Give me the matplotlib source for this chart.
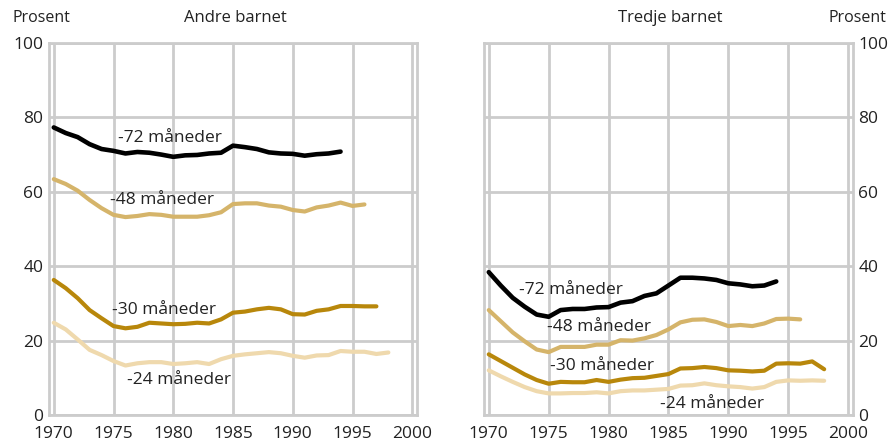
import matplotlib
matplotlib.use("Agg")
import matplotlib.pyplot as plt

plt.rcParams["font.family"] = ["Open Sans", "DejaVu Sans"]

# ===== data =====
years_andre_72 = list(range(1970, 1995))
andre_72 = [77.3, 75.8, 74.7, 72.8, 71.5, 71.0, 70.3, 70.7, 70.5, 70.0,
            69.4, 69.8, 69.9, 70.3, 70.5, 72.4, 72.0, 71.5, 70.6, 70.3,
            70.2, 69.7, 70.1, 70.3, 70.8]
years_andre_48 = list(range(1970, 1997))
andre_48 = [63.4, 62.1, 60.3, 57.8, 55.6, 53.8, 53.2, 53.5, 54.0, 53.8,
            53.3, 53.3, 53.3, 53.7, 54.5, 56.7, 56.9, 56.9, 56.3, 56.0,
            55.1, 54.7, 55.8, 56.3, 57.1, 56.2, 56.6]
years_andre_30 = list(range(1970, 1998))
andre_30 = [36.3, 34.1, 31.4, 28.2, 26.0, 23.9, 23.3, 23.7, 24.8, 24.6,
            24.4, 24.5, 24.8, 24.6, 25.7, 27.5, 27.8, 28.4, 28.8, 28.4,
            27.1, 27.0, 28.0, 28.4, 29.3, 29.3, 29.2, 29.2]
years_andre_24 = list(range(1970, 1999))
andre_24 = [24.8, 23.0, 20.3, 17.5, 16.1, 14.5, 13.3, 13.9, 14.2, 14.2,
            13.7, 13.9, 14.2, 13.7, 15.0, 15.9, 16.3, 16.6, 16.9, 16.6,
            15.9, 15.4, 16.0, 16.1, 17.2, 17.0, 17.0, 16.4, 16.8]

years_tredje_72 = list(range(1970, 1995))
tredje_72 = [38.4, 34.8, 31.5, 29.1, 27.0, 26.4, 28.2, 28.5, 28.5, 28.9,
             29.0, 30.2, 30.6, 32.0, 32.7, 34.8, 36.9, 36.9, 36.7, 36.3,
             35.4, 35.1, 34.6, 34.8, 35.9]
years_tredje_48 = list(range(1970, 1997))
tredje_48 = [28.2, 25.2, 22.2, 19.8, 17.6, 16.9, 18.3, 18.3, 18.3, 18.9,
             18.9, 20.1, 20.0, 20.6, 21.5, 23.0, 24.9, 25.6, 25.7, 25.0,
             23.9, 24.2, 23.9, 24.6, 25.8, 25.9, 25.7]
years_tredje_30 = list(range(1970, 1999))
tredje_30 = [16.3, 14.5, 12.7, 10.9, 9.4, 8.4, 8.9, 8.8, 8.8, 9.4,
             8.9, 9.5, 9.9, 10.0, 10.5, 11.0, 12.5, 12.6, 12.9, 12.6,
             12.0, 11.9, 11.7, 11.9, 13.8, 13.9, 13.8, 14.4, 12.3]
years_tredje_24 = list(range(1970, 1999))
tredje_24 = [12.0, 10.4, 8.9, 7.5, 6.4, 5.8, 5.8, 5.9, 5.9, 6.1,
             5.8, 6.4, 6.6, 6.6, 6.8, 7.0, 7.9, 8.0, 8.5, 8.0,
             7.7, 7.5, 7.1, 7.5, 8.9, 9.3, 9.2, 9.3, 9.2]

x_ticks = [1970, 1975, 1980, 1985, 1990, 1995, 2000]
y_ticks = [0, 20, 40, 60, 80, 100]

COLORS = {"72": "#000000", "48": "#d5b46a", "30": "#b8870b", "24": "#efd9ad"}
WIDTHS = {"72": 3.3, "48": 3.0, "30": 3.0, "24": 3.0}
TEXT_COLOR = "#222222"
GRID_COLOR = "#cccccc"


def style_axes(ax, right=False):
    ax.set_xlim(1969.6, 2000.4)
    ax.set_ylim(0, 100)
    ax.set_xticks(x_ticks)
    ax.set_yticks(y_ticks)
    ax.grid(True, color=GRID_COLOR, linewidth=2)
    ax.set_axisbelow(True)
    for sp in ax.spines.values():
        sp.set_color(GRID_COLOR)
        sp.set_linewidth(2)
    ax.tick_params(length=0, labelsize=12.5, colors=TEXT_COLOR, pad=4)
    if right:
        ax.yaxis.tick_right()
    ax.tick_params(axis="x", pad=8)


def draw_panel(ax, series, labels):
    for key, (xs, ys) in series.items():
        ax.plot(xs, ys, color=COLORS[key], linewidth=WIDTHS[key],
                solid_capstyle="round", solid_joinstyle="round")
    for txt, (x, y) in labels.items():
        ax.text(x, y, txt, fontsize=12.5, color=TEXT_COLOR, va="center", ha="left")


fig = plt.figure(figsize=(8.89, 4.41), dpi=100)
ax1 = fig.add_axes([0.0551, 0.059, 0.414, 0.8435])
ax2 = fig.add_axes([0.5444, 0.059, 0.415, 0.8435])

style_axes(ax1)
style_axes(ax2, right=True)

draw_panel(ax1,
           {"72": (years_andre_72, andre_72), "48": (years_andre_48, andre_48),
            "30": (years_andre_30, andre_30), "24": (years_andre_24, andre_24)},
           {"-72 måneder": (1975.4, 74.5), "-48 måneder": (1974.7, 57.8),
            "-30 måneder": (1974.9, 28.2), "-24 måneder": (1976.1, 9.4)})
draw_panel(ax2,
           {"72": (years_tredje_72, tredje_72), "48": (years_tredje_48, tredje_48),
            "30": (years_tredje_30, tredje_30), "24": (years_tredje_24, tredje_24)},
           {"-72 måneder": (1972.5, 33.5), "-48 måneder": (1974.9, 23.6),
            "-30 måneder": (1975.1, 13.3), "-24 måneder": (1984.3, 2.9)})

fig.text(12 / 889, 1 - 18 / 441, "Prosent", fontsize=11.5, color=TEXT_COLOR,
         ha="left", va="center")
fig.text(235 / 889, 1 - 18 / 441, "Andre barnet", fontsize=12, color=TEXT_COLOR,
         ha="center", va="center")
fig.text(670 / 889, 1 - 18 / 441, "Tredje barnet", fontsize=12, color=TEXT_COLOR,
         ha="center", va="center")
fig.text(886 / 889, 1 - 18 / 441, "Prosent", fontsize=11.5, color=TEXT_COLOR,
         ha="right", va="center")

fig.savefig("out.png", dpi=100)
plt.close(fig)
